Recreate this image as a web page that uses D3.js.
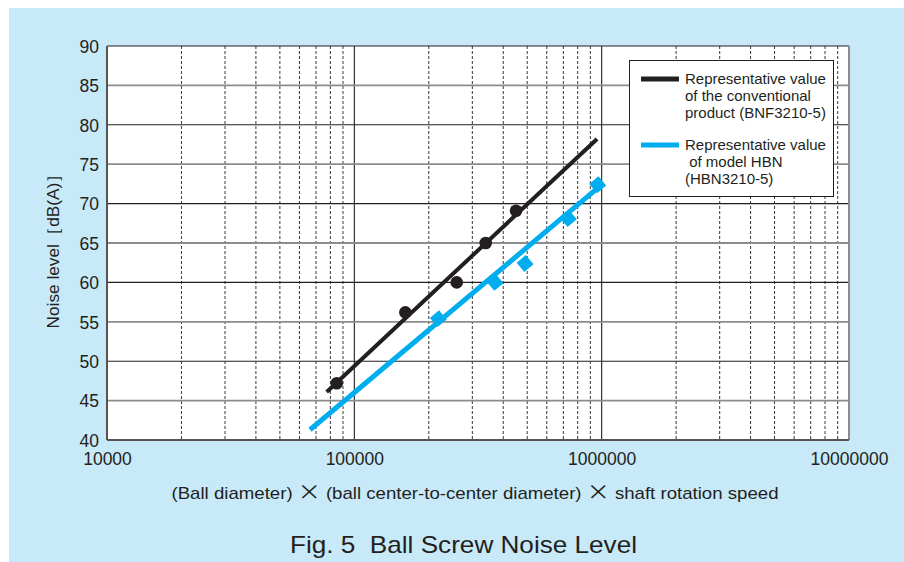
<!DOCTYPE html>
<html>
<head>
<meta charset="utf-8">
<script src="https://cdn.jsdelivr.net/npm/d3@7"></script>
<style>
  body { margin: 0; background: #ffffff; }
  svg text { font-family: "Liberation Sans", Arial, sans-serif; fill: #231f20; }
</style>
</head>
<body>
<div id="visArea"></div>
<script>

var convX = [84900, 160800, 259400, 339800, 450600];
var convY = [47.2, 56.2, 60.0, 65.0, 69.1];
var hbnX = [218600, 370600, 490000, 733000, 964000];
var hbnY = [55.4, 60.0, 62.4, 68.1, 72.4];

// Representative lines (end points)
var convLineX = [77300, 958000];
var convLineY = [46.1, 78.2];
var hbnLineX = [66200, 1000000];
var hbnLineY = [41.3, 72.4];

var xTicks = [10000, 100000, 1000000, 10000000];
var yTicks = [40, 45, 50, 55, 60, 65, 70, 75, 80, 85, 90];

var legendLabels = [
  ['Representative value', 'of the conventional', 'product (BNF3210-5)'],
  ['Representative value', ' of model HBN', '(HBN3210-5)']
];

var BLACK = '#231f20', BLUE = '#00aeef', GREY = '#8c8c8c';

function zip(a, b){ return a.map(function(v, i){ return [v, b[i]]; }); }

function drawChart(){
  var W = 904, H = 562;
  var left = 107, right = 849, top = 46, bottom = 440;

  var svg = d3.select('#visArea').append('svg')
              .attr('width', W).attr('height', H);

  svg.append('rect').attr('x', 9).attr('y', 8)
     .attr('width', W - 9).attr('height', H - 8)
     .attr('fill', '#c7e9f8');

  var x = d3.scaleLog().domain([10000, 10000000]).range([left, right]);
  var y = d3.scaleLinear().domain([40, 90]).range([bottom, top]);

  svg.append('rect').attr('x', left).attr('y', top)
     .attr('width', right - left).attr('height', bottom - top)
     .attr('fill', '#ffffff');

  // minor vertical gridlines (dashed)
  var minor = [];
  for (var dec = 10000; dec < 10000000; dec *= 10){
    for (var k = 2; k <= 9; k++) minor.push(dec * k);
  }
  svg.append('g').selectAll('line').data(minor).enter().append('line')
     .attr('x1', function(d){ return x(d); }).attr('x2', function(d){ return x(d); })
     .attr('y1', top).attr('y2', bottom)
     .style('stroke', BLACK).style('stroke-width', 0.9)
     .style('stroke-dasharray', '3,2');

  // decade lines
  svg.append('g').selectAll('line').data([100000, 1000000]).enter().append('line')
     .attr('x1', function(d){ return x(d); }).attr('x2', function(d){ return x(d); })
     .attr('y1', top).attr('y2', bottom)
     .style('stroke', BLACK).style('stroke-width', 1.1);

  // horizontal gridlines: grey at odd multiples of 5, black at multiples of 10
  svg.append('g').selectAll('line').data(yTicks.slice(1, -1)).enter().append('line')
     .attr('x1', left).attr('x2', right)
     .attr('y1', function(d){ return y(d); }).attr('y2', function(d){ return y(d); })
     .style('stroke', function(d){ return d % 10 == 0 ? BLACK : GREY; })
     .style('stroke-width', function(d){ return d % 10 == 0 ? 1.1 : 1.8; });

  // frame
  svg.append('line').attr('x1', left).attr('x2', right).attr('y1', top).attr('y2', top)
     .style('stroke', BLACK).style('stroke-width', 1.2);
  svg.append('line').attr('x1', right).attr('x2', right).attr('y1', top).attr('y2', bottom)
     .style('stroke', GREY).style('stroke-width', 2);
  svg.append('line').attr('x1', left).attr('x2', right).attr('y1', bottom).attr('y2', bottom)
     .style('stroke', '#555').style('stroke-width', 2);
  svg.append('line').attr('x1', left).attr('x2', left).attr('y1', top).attr('y2', bottom)
     .style('stroke', '#555').style('stroke-width', 2);

  // axes labels
  var yAxis = d3.axisLeft(y).tickValues(yTicks).tickSize(0).tickPadding(8)
                .tickFormat(d3.format('d'));
  var gy = svg.append('g').attr('transform', 'translate(' + left + ',0)').call(yAxis);
  gy.select('.domain').remove();
  gy.selectAll('text').style('font-size', '17.5px').attr('dy', '0.36em')
    .style('font-family', '"Liberation Sans", Arial, sans-serif').style('fill', BLACK);

  var xAxis = d3.axisBottom(x).tickValues(xTicks).tickSize(0).tickPadding(13)
                .tickFormat(d3.format('d'));
  var gx = svg.append('g').attr('transform', 'translate(0,' + bottom + ')').call(xAxis);
  gx.select('.domain').remove();
  gx.selectAll('text').style('font-size', '17.5px')
    .style('font-family', '"Liberation Sans", Arial, sans-serif').style('fill', BLACK);

  // lines
  var line = d3.line().x(function(d){ return x(d[0]); }).y(function(d){ return y(d[1]); });
  svg.append('path').datum(zip(convLineX, convLineY)).attr('d', line)
     .style('stroke', BLACK).style('stroke-width', 4).style('fill', 'none');
  svg.append('path').datum(zip(hbnLineX, hbnLineY)).attr('d', line)
     .style('stroke', BLUE).style('stroke-width', 5).style('fill', 'none');

  // points
  svg.append('g').selectAll('circle').data(zip(convX, convY)).enter().append('circle')
     .attr('cx', function(d){ return x(d[0]); }).attr('cy', function(d){ return y(d[1]); })
     .attr('r', 6.3).attr('fill', BLACK);

  var p0 = [x(hbnLineX[0]), y(hbnLineY[0])], p1 = [x(hbnLineX[1]), y(hbnLineY[1])];
  var ang = Math.atan2(p1[1] - p0[1], p1[0] - p0[0]) * 180 / Math.PI;
  var s = 12;
  svg.append('g').selectAll('rect').data(zip(hbnX, hbnY)).enter().append('rect')
     .attr('x', -s/2).attr('y', -s/2).attr('width', s).attr('height', s)
     .attr('transform', function(d){
       return 'translate(' + x(d[0]) + ',' + y(d[1]) + ') rotate(' + ang + ')';
     })
     .attr('fill', BLUE);

  // legend
  var lg = svg.append('g').attr('class', 'legend');
  lg.append('rect').attr('x', 629.5).attr('y', 60.5).attr('width', 204).attr('height', 136)
    .attr('fill', '#ffffff').style('stroke', BLACK).style('stroke-width', 1);
  var cols = [BLACK, BLUE];
  legendLabels.forEach(function(lab, i){
    var y0 = 79 + i * 66;
    lg.append('line').attr('x1', 641).attr('x2', 679).attr('y1', y0).attr('y2', y0)
      .style('stroke', cols[i]).style('stroke-width', 5);
    lab.forEach(function(t, j){
      lg.append('text').attr('x', 685).attr('y', y0 + 5 + j * 17)
        .attr('xml:space', 'preserve')
        .text(t).style('font-size', '15px');
    });
  });

  // titles
  svg.append('text').attr('transform', 'translate(59,247) rotate(-90)')
     .style('text-anchor', 'middle').style('font-size', '17px')
     .attr('textLength', 163).attr('lengthAdjust', 'spacingAndGlyphs')
     .text('Noise level［dB(A)］');

  var xt = svg.append('text').attr('x', 475).attr('y', 499)
     .style('text-anchor', 'middle').style('font-size', '17px')
     .attr('textLength', 607).attr('lengthAdjust', 'spacingAndGlyphs');
  xt.append('tspan').text('(Ball diameter) ');
  xt.append('tspan').text('×').style('font-family', '"Noto Sans CJK JP"').style('font-size', '21px');
  xt.append('tspan').text(' (ball center-to-center diameter) ');
  xt.append('tspan').text('×').style('font-family', '"Noto Sans CJK JP"').style('font-size', '21px');
  xt.append('tspan').text(' shaft rotation speed');

  svg.append('text').attr('x', 463.5).attr('y', 553)
     .attr('xml:space', 'preserve')
     .style('text-anchor', 'middle').style('font-size', '24px')
     .attr('textLength', 347).attr('lengthAdjust', 'spacingAndGlyphs')
     .text('Fig. 5  Ball Screw Noise Level');
}

drawChart();
</script>
</body>
</html>
